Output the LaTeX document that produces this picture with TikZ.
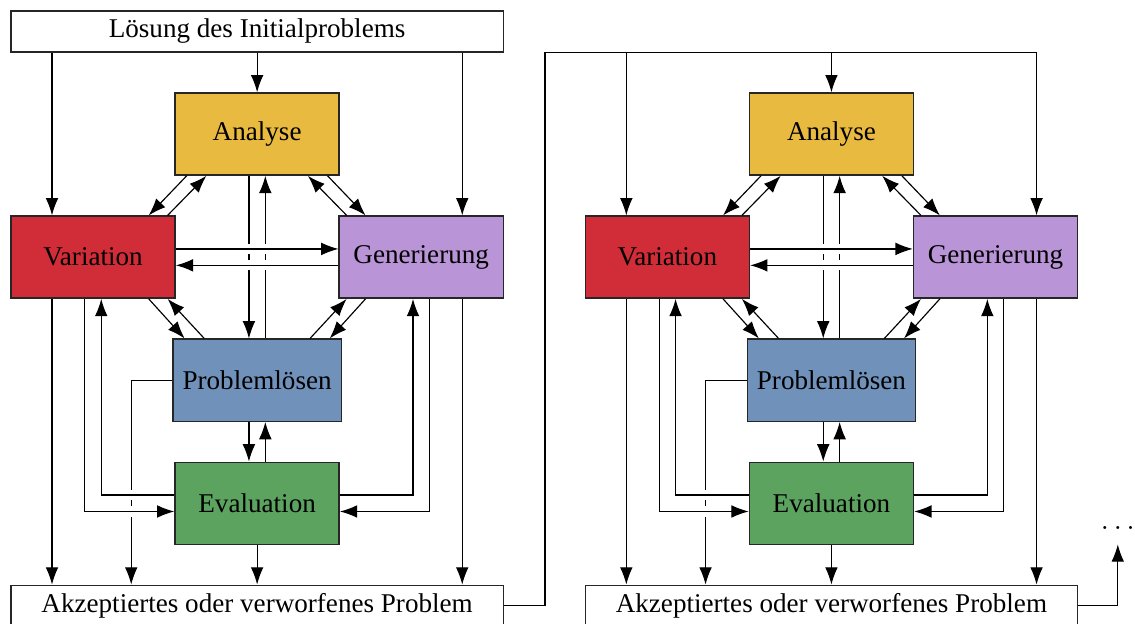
\documentclass[tikz,border=0pt]{standalone}
\usepackage{fontspec}
\setmainfont{Liberation Serif}
\usetikzlibrary{arrows.meta}

\definecolor{anacol}{RGB}{232,186,64}
\definecolor{varcol}{RGB}{209,45,57}
\definecolor{gencol}{RGB}{185,148,214}
\definecolor{probcol}{RGB}{112,146,186}
\definecolor{evalcol}{RGB}{93,163,96}

\tikzset{
	phase/.style={rectangle, draw=black!85, line width=0.5pt, minimum width=2cm, minimum height=1cm, font=\fontsize{9.4}{11}\selectfont},
	wide/.style={rectangle, draw=black!85, line width=0.5pt, minimum width=6cm, minimum height=0.5cm, inner sep=0pt, font=\fontsize{9.4}{11}\selectfont},
	arr/.style={-{Latex[length=6pt, width=4.4pt]}, line width=0.4pt},
	over/.style={preaction={draw=white, line width=3.5pt, -}}
}

\begin{document}
\begin{tikzpicture}

		\useasboundingbox (-3.134,-5.963) rectangle (10.70,1.634);

		\node[wide](init) at (0,1.25){Lösung des Initialproblems};
		\node[phase, fill=anacol](ana1) at (0,0){Analyse};
		\node[phase, fill=varcol](var1) at (-2,-1.5){Variation};
		\node[phase, fill=gencol](gen1) at (2,-1.5){Generierung};
		\node[phase, fill=probcol](prob1) at (0,-3){Problemlösen};
		\node[phase, fill=evalcol](eval1) at (0,-4.5){Evaluation};
		\node[wide](res1) at (0,-5.75){Akzeptiertes oder verworfenes Problem};

		\node[phase, fill=anacol](ana2) at (7,0){Analyse};
		\node[phase, fill=varcol](var2) at (5,-1.5){Variation};
		\node[phase, fill=gencol](gen2) at (9,-1.5){Generierung};
		\node[phase, fill=probcol](prob2) at (7,-3){Problemlösen};
		\node[phase, fill=evalcol](eval2) at (7,-4.5){Evaluation};
		\node[wide](res2) at (7,-5.75){Akzeptiertes oder verworfenes Problem};

		\coordinate[xshift=0.5cm](feed) at (init.south east);
		\node[inner sep=5pt](more) at (10.49,-4.8){$\dots$};

		\draw [arr] (init) -- (ana1);
		\draw [arr] ([xshift=-0.5cm]var1.north |- init.south) -- ([xshift=-0.5cm]var1.north);
		\draw [arr] ([xshift=0.5cm]gen1.north |- init.south) -- ([xshift=0.5cm]gen1.north);

		\draw [arr] ([xshift=0.15cm]ana1.south west) -- ([xshift=-0.33cm]var1.north east);
		\draw [arr] ([xshift=-0.1cm]var1.north east) -- ([xshift=0.39cm]ana1.south west);
		\draw [arr] ([xshift=-0.15cm]ana1.south east) -- ([xshift=0.33cm]gen1.north west);
		\draw [arr] ([xshift=0.1cm]gen1.north west) -- ([xshift=-0.39cm]ana1.south east);
		\draw [arr] ([xshift=-0.33cm]var1.south east) -- ([xshift=0.15cm]prob1.north west);
		\draw [arr] ([xshift=0.39cm]prob1.north west) -- ([xshift=-0.1cm]var1.south east);
		\draw [arr] ([xshift=0.33cm]gen1.south west) -- ([xshift=-0.15cm]prob1.north east);
		\draw [arr] ([xshift=-0.39cm]prob1.north east) -- ([xshift=0.1cm]gen1.south west);

		\draw [arr] ([xshift=-0.1cm]ana1.south) -- ([xshift=-0.1cm]prob1.north);
		\draw [arr] ([xshift=0.1cm]prob1.north) -- ([xshift=0.1cm]ana1.south);
		\draw [arr, over] ([yshift=0.1cm]var1.east) -- ([yshift=0.1cm]gen1.west);
		\draw [arr, over] ([yshift=-0.1cm]gen1.west) -- ([yshift=-0.1cm]var1.east);
		\draw [arr] ([xshift=-0.1cm]prob1.south) -- ([xshift=-0.1cm]eval1.north);
		\draw [arr] ([xshift=0.1cm]eval1.north) -- ([xshift=0.1cm]prob1.south);

		\draw [arr] (prob1.west) -| ([xshift=-0.5cm]prob1.west |- res1.north);
		\draw [arr, over] ([xshift=-0.1cm]var1.south) |- ([yshift=-0.1cm]eval1.west);
		\draw [arr, over] ([yshift=0.1cm]eval1.west) -| ([xshift=0.1cm]var1.south);
		\draw [arr] ([xshift=0.1cm]gen1.south) |- ([yshift=-0.1cm]eval1.east);
		\draw [arr] ([yshift=0.1cm]eval1.east) -| ([xshift=-0.1cm]gen1.south);

		\draw [arr] ([xshift=-0.5cm]var1.south) -- ([xshift=-0.5cm]var1.south |- res1.north);
		\draw [arr] (eval1) -- (res1);
		\draw [arr] ([xshift=0.5cm]gen1.south) -- ([xshift=0.5cm]gen1.south |- res1.north);

		\draw [arr] (res1.east) -| (feed) -| ([xshift=0.5cm]gen2.north);
		\draw [arr] (ana2.north |- feed) -- (ana2);
		\draw [arr] ([xshift=-0.5cm]var2.north |- feed) -- ([xshift=-0.5cm]var2.north);

		\draw [arr] ([xshift=0.15cm]ana2.south west) -- ([xshift=-0.33cm]var2.north east);
		\draw [arr] ([xshift=-0.1cm]var2.north east) -- ([xshift=0.39cm]ana2.south west);
		\draw [arr] ([xshift=-0.15cm]ana2.south east) -- ([xshift=0.33cm]gen2.north west);
		\draw [arr] ([xshift=0.1cm]gen2.north west) -- ([xshift=-0.39cm]ana2.south east);
		\draw [arr] ([xshift=-0.33cm]var2.south east) -- ([xshift=0.15cm]prob2.north west);
		\draw [arr] ([xshift=0.39cm]prob2.north west) -- ([xshift=-0.1cm]var2.south east);
		\draw [arr] ([xshift=0.33cm]gen2.south west) -- ([xshift=-0.15cm]prob2.north east);
		\draw [arr] ([xshift=-0.39cm]prob2.north east) -- ([xshift=0.1cm]gen2.south west);

		\draw [arr] ([xshift=-0.1cm]ana2.south) -- ([xshift=-0.1cm]prob2.north);
		\draw [arr] ([xshift=0.1cm]prob2.north) -- ([xshift=0.1cm]ana2.south);
		\draw [arr, over] ([yshift=0.1cm]var2.east) -- ([yshift=0.1cm]gen2.west);
		\draw [arr, over] ([yshift=-0.1cm]gen2.west) -- ([yshift=-0.1cm]var2.east);
		\draw [arr] ([xshift=-0.1cm]prob2.south) -- ([xshift=-0.1cm]eval2.north);
		\draw [arr] ([xshift=0.1cm]eval2.north) -- ([xshift=0.1cm]prob2.south);

		\draw [arr] (prob2.west) -| ([xshift=-0.5cm]prob2.west |- res2.north);
		\draw [arr, over] ([xshift=-0.1cm]var2.south) |- ([yshift=-0.1cm]eval2.west);
		\draw [arr, over] ([yshift=0.1cm]eval2.west) -| ([xshift=0.1cm]var2.south);
		\draw [arr] ([xshift=0.1cm]gen2.south) |- ([yshift=-0.1cm]eval2.east);
		\draw [arr] ([yshift=0.1cm]eval2.east) -| ([xshift=-0.1cm]gen2.south);

		\draw [arr] ([xshift=-0.5cm]var2.south) -- ([xshift=-0.5cm]var2.south |- res2.north);
		\draw [arr] (eval2) -- (res2);
		\draw [arr] ([xshift=0.5cm]gen2.south) -- ([xshift=0.5cm]gen2.south |- res2.north);

		\draw [arr] (res2.east) -| (more.south);

	\end{tikzpicture}
\end{document}
